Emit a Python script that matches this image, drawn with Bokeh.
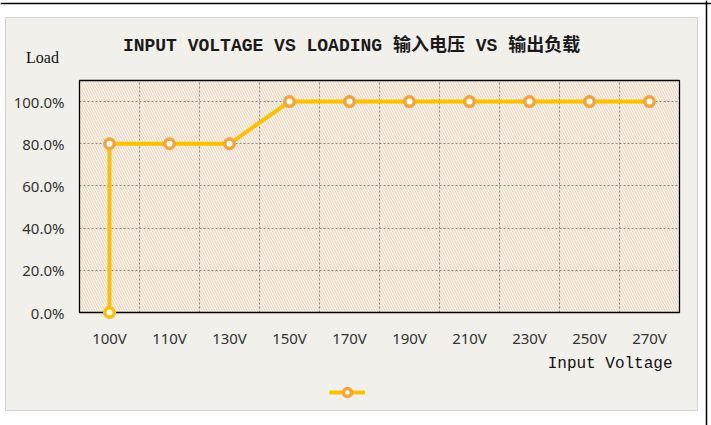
from bokeh.plotting import figure
from bokeh.models import (FixedTicker, NumeralTickFormatter, BoxAnnotation, Label, Span,
                          Legend, LegendItem, ColumnDataSource, Range1d)
from bokeh.embed import file_html
from bokeh.resources import INLINE
from bokeh.core.properties import value

# ---- data ----
categories = ["100V", "110V", "130V", "150V", "170V", "190V", "210V", "230V", "250V", "270V"]
point_voltage = ["100V", "100V", "110V", "130V", "150V", "170V", "190V", "210V", "230V", "250V", "270V"]
point_load = [0.0, 0.80, 0.80, 0.80, 1.00, 1.00, 1.00, 1.00, 1.00, 1.00, 1.00]
y_ticks = [0.0, 0.2, 0.4, 0.6, 0.8, 1.0]
y_max = 1.1
title_text = "INPUT VOLTAGE VS LOADING 输入电压 VS 输出负载"
y_title = "Load"
x_title = "Input Voltage"

# ---- layout constants (pixels) ----
W, H = 711, 425
PL, PR, PT, PB = 79, 679, 80, 312          # plot area in page pixels
n = len(categories)
kx = (PR - PL) / n
ky = (PB - PT) / y_max

xpos = [categories.index(v) + 0.5 for v in point_voltage]
ring = ["#ffc000"] + ["#f5a53c"] * (len(point_voltage) - 1)
src = ColumnDataSource(dict(x=xpos, y=point_load, ring=ring))

p = figure(width=W, height=H, output_backend="svg", toolbar_location=None,
           x_range=Range1d(-PL / kx, n + (W - PR) / kx),
           y_range=Range1d(-(H - PB) / ky, y_max + PT / ky),
           min_border=0, background_fill_color="white", border_fill_color="white",
           outline_line_color=None)
p.title.visible = False

# outer screenshot frame lines and panel
p.add_layout(Span(location=H - 3, location_units="screen", dimension="width",
                  line_color="#000000", line_width=1.5, level="image"))
p.add_layout(Span(location=706, location_units="screen", dimension="height",
                  line_color="#000000", line_width=1.5, level="image"))
p.add_layout(BoxAnnotation(left=5, right=697, top=H - 17, bottom=H - 410,
                           left_units="screen", right_units="screen",
                           top_units="screen", bottom_units="screen",
                           fill_color="#f1f0eb", fill_alpha=1, line_color="#d2d2d2",
                           line_alpha=1, line_width=1, level="image"))
# plot area with hatch
p.add_layout(BoxAnnotation(left=0, right=n, bottom=0, top=y_max,
                           fill_color="#fcf4ea", fill_alpha=1, line_color=None, level="image"))
p.add_layout(BoxAnnotation(left=0, right=n, bottom=0, top=y_max,
                           fill_color=None, line_color=None, hatch_pattern="left_diagonal_line",
                           hatch_color="#e6d2ba", hatch_alpha=1, hatch_scale=5, hatch_weight=1,
                           level="image"))

# axes at fixed locations
p.xaxis.fixed_location = 0
p.yaxis.fixed_location = 0
p.xaxis.ticker = FixedTicker(ticks=[i + 0.5 for i in range(n)])
p.xaxis.major_label_overrides = {i + 0.5: c for i, c in enumerate(categories)}
p.yaxis.ticker = FixedTicker(ticks=y_ticks)
p.yaxis.formatter = NumeralTickFormatter(format="0.0%")
for ax in (p.xaxis[0], p.yaxis[0]):
    ax.axis_line_color = None
    ax.major_tick_line_color = None
    ax.minor_tick_line_color = None
    ax.major_label_text_font = "Noto Sans"
    ax.major_label_text_font_size = "15px"
    ax.major_label_text_color = "#333333"
    ax.major_label_standoff = 9

# grids, limited to the plot area
xg, yg = p.xgrid[0], p.ygrid[0]
xg.ticker = FixedTicker(ticks=list(range(1, n)))
yg.ticker = FixedTicker(ticks=y_ticks[1:])
GRID_COLOR, GRID_DASH = "#888888", "2 2"
if "cross_bounds" in xg.properties():
    xg.bounds = (0, n)
    xg.cross_bounds = (0, y_max)
    yg.bounds = (0, y_max)
    yg.cross_bounds = (0, n)
    for g in (xg, yg):
        g.grid_line_color = GRID_COLOR
        g.grid_line_dash = GRID_DASH
        g.grid_line_width = 1
else:
    xg.visible = False
    yg.visible = False
    vb = list(range(1, n))
    p.segment(x0=vb, x1=vb, y0=[0] * len(vb), y1=[y_max] * len(vb), line_color=GRID_COLOR,
              line_dash=GRID_DASH, line_width=1, level="underlay")
    hy = y_ticks[1:]
    p.segment(x0=[0] * len(hy), x1=[n] * len(hy), y0=hy, y1=hy, line_color=GRID_COLOR,
              line_dash=GRID_DASH, line_width=1, level="underlay")

# plot-area outline
p.add_layout(BoxAnnotation(left=0, right=n, bottom=0, top=y_max, fill_color=None,
                           line_color="#000000", line_alpha=1, line_width=1.3,
                           level="underlay"))

# series
ln = p.line("x", "y", source=src, line_color="#ffc000", line_width=4)
sc = p.scatter("x", "y", source=src, size=9.5, fill_color="white", line_color="ring",
               line_width=3.5)

# legend (no text)
leg = Legend(items=[LegendItem(label=value(" "), renderers=[ln, sc], index=1)],
             location=(329, H - 402), glyph_width=36, glyph_height=20, label_width=0,
             label_standoff=0, padding=0, margin=0, spacing=0,
             background_fill_alpha=0, border_line_color=None, label_text_font_size="2px")
p.add_layout(leg, "center")

# texts
serif = "'Liberation Mono', 'Noto Sans CJK SC'"
p.add_layout(Label(x=351, y=H - 45, x_units="screen", y_units="screen", text=title_text,
                   text_font=serif, text_font_size="18px", text_font_style="bold",
                   text_align="center", text_baseline="middle", text_color="#1a1a1a"))
p.add_layout(Label(x=42, y=H - 57, x_units="screen", y_units="screen", text=y_title,
                   text_font="Liberation Serif", text_font_size="16px", text_align="center",
                   text_baseline="middle", text_color="#111111"))
p.add_layout(Label(x=672, y=H - 363, x_units="screen", y_units="screen", text=x_title,
                   text_font="Liberation Mono", text_font_size="16px", text_align="right",
                   text_baseline="middle", text_color="#111111"))

open("out.html", "w").write(file_html(p, INLINE))
